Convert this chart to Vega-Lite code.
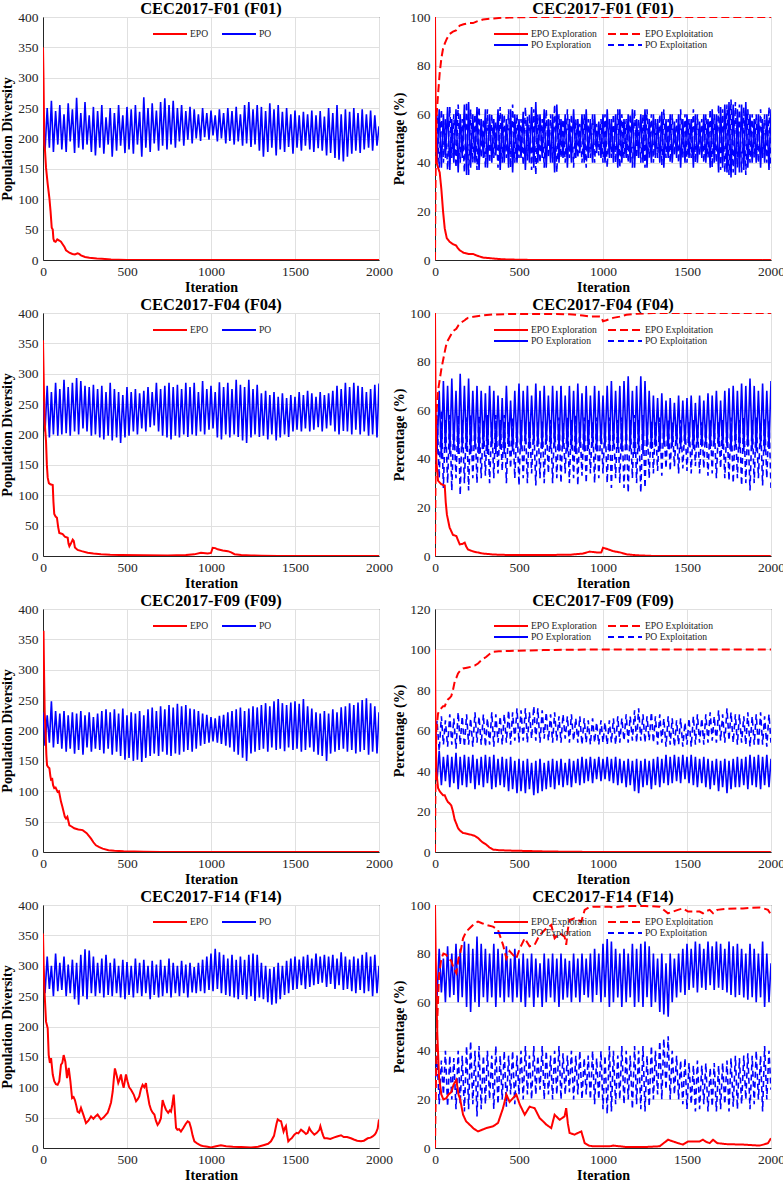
{
"$schema":"https://vega.github.io/schema/vega-lite/v6.json",
"background":"#ffffff",
"padding":0,
"columns":2,
"spacing":{"row":53,"column":56},
"bounds":"flush",
"resolve":{"scale":{"color":"independent","strokeDash":"independent"}},
"concat":[
{"title":"CEC2017-F01 (F01)","width":336,"height":243,
"encoding":{"x":{"field":"i","type":"quantitative","scale":{"domain":[0,2000],"nice":false},"axis":{"values":[0,500,1000,1500,2000],"format":"d","title":"Iteration"}},
"y":{"field":"v","type":"quantitative","scale":{"domain":[0,400],"nice":false},"axis":{"values":[0,50,100,150,200,250,300,350,400],"title":"Population Diversity"}}},
"layer":[
{"data":{"name":"p1"},"mark":{"type":"line","strokeWidth":1.6,"clip":true},"encoding":{"color":{"datum":"PO","scale":{"domain":["EPO","PO"],"range":["#ff0000","#0000ff"]},"legend":{"orient":"none","legendX":109,"legendY":11.5,"direction":"horizontal","columns":2,"title":null,"columnPadding":12}}}},
{"data":{"name":"e1"},"mark":{"type":"line","strokeWidth":2,"clip":true},"encoding":{"color":{"datum":"EPO","scale":{"domain":["EPO","PO"],"range":["#ff0000","#0000ff"]},"legend":{"orient":"none","legendX":109,"legendY":11.5,"direction":"horizontal","columns":2,"title":null,"columnPadding":12}}}}
]},
{"title":"CEC2017-F01 (F01)","width":336,"height":243,
"encoding":{"x":{"field":"i","type":"quantitative","scale":{"domain":[0,2000],"nice":false},"axis":{"values":[0,500,1000,1500,2000],"format":"d","title":"Iteration"}},
"y":{"field":"v","type":"quantitative","scale":{"domain":[0,100],"nice":false},"axis":{"values":[0,20,40,60,80,100],"title":"Percentage (%)"}}},
"layer":[
{"data":{"name":"q1"},"transform":[{"fold":["t"],"as":["k","v"]}],"mark":{"type":"line","strokeWidth":1.6,"clip":true},"encoding":{"color":{"datum":"PO Exploitation","scale":{"domain":["EPO Exploration","EPO Exploitation","PO Exploration","PO Exploitation"],"range":["#ff0000","#ff0000","#0000ff","#0000ff"]},"legend":{"orient":"none","legendX":58,"legendY":11.5,"direction":"horizontal","columns":2,"title":null,"columnPadding":10}},"strokeDash":{"datum":"PO Exploitation","scale":{"domain":["EPO Exploration","EPO Exploitation","PO Exploration","PO Exploitation"],"range":[[1,0],[8,4],[1,0],[6,4]]},"legend":{"orient":"none","legendX":58,"legendY":11.5,"direction":"horizontal","columns":2,"title":null,"columnPadding":10}}}},
{"data":{"name":"q1"},"transform":[{"fold":["r"],"as":["k","v"]}],"mark":{"type":"line","strokeWidth":1.6,"clip":true},"encoding":{"color":{"datum":"PO Exploration","scale":{"domain":["EPO Exploration","EPO Exploitation","PO Exploration","PO Exploitation"],"range":["#ff0000","#ff0000","#0000ff","#0000ff"]},"legend":{"orient":"none","legendX":58,"legendY":11.5,"direction":"horizontal","columns":2,"title":null,"columnPadding":10}},"strokeDash":{"datum":"PO Exploration","scale":{"domain":["EPO Exploration","EPO Exploitation","PO Exploration","PO Exploitation"],"range":[[1,0],[8,4],[1,0],[6,4]]},"legend":{"orient":"none","legendX":58,"legendY":11.5,"direction":"horizontal","columns":2,"title":null,"columnPadding":10}}}},
{"data":{"name":"g1"},"transform":[{"fold":["t"],"as":["k","v"]}],"mark":{"type":"line","strokeWidth":2,"clip":true},"encoding":{"color":{"datum":"EPO Exploitation","scale":{"domain":["EPO Exploration","EPO Exploitation","PO Exploration","PO Exploitation"],"range":["#ff0000","#ff0000","#0000ff","#0000ff"]},"legend":{"orient":"none","legendX":58,"legendY":11.5,"direction":"horizontal","columns":2,"title":null,"columnPadding":10}},"strokeDash":{"datum":"EPO Exploitation","scale":{"domain":["EPO Exploration","EPO Exploitation","PO Exploration","PO Exploitation"],"range":[[1,0],[8,4],[1,0],[6,4]]},"legend":{"orient":"none","legendX":58,"legendY":11.5,"direction":"horizontal","columns":2,"title":null,"columnPadding":10}}}},
{"data":{"name":"g1"},"transform":[{"fold":["r"],"as":["k","v"]}],"mark":{"type":"line","strokeWidth":2,"clip":true},"encoding":{"color":{"datum":"EPO Exploration","scale":{"domain":["EPO Exploration","EPO Exploitation","PO Exploration","PO Exploitation"],"range":["#ff0000","#ff0000","#0000ff","#0000ff"]},"legend":{"orient":"none","legendX":58,"legendY":11.5,"direction":"horizontal","columns":2,"title":null,"columnPadding":10}},"strokeDash":{"datum":"EPO Exploration","scale":{"domain":["EPO Exploration","EPO Exploitation","PO Exploration","PO Exploitation"],"range":[[1,0],[8,4],[1,0],[6,4]]},"legend":{"orient":"none","legendX":58,"legendY":11.5,"direction":"horizontal","columns":2,"title":null,"columnPadding":10}}}}
]},
{"title":"CEC2017-F04 (F04)","width":336,"height":243,
"encoding":{"x":{"field":"i","type":"quantitative","scale":{"domain":[0,2000],"nice":false},"axis":{"values":[0,500,1000,1500,2000],"format":"d","title":"Iteration"}},
"y":{"field":"v","type":"quantitative","scale":{"domain":[0,400],"nice":false},"axis":{"values":[0,50,100,150,200,250,300,350,400],"title":"Population Diversity"}}},
"layer":[
{"data":{"name":"p2"},"mark":{"type":"line","strokeWidth":1.6,"clip":true},"encoding":{"color":{"datum":"PO","scale":{"domain":["EPO","PO"],"range":["#ff0000","#0000ff"]},"legend":{"orient":"none","legendX":109,"legendY":11.5,"direction":"horizontal","columns":2,"title":null,"columnPadding":12}}}},
{"data":{"name":"e2"},"mark":{"type":"line","strokeWidth":2,"clip":true},"encoding":{"color":{"datum":"EPO","scale":{"domain":["EPO","PO"],"range":["#ff0000","#0000ff"]},"legend":{"orient":"none","legendX":109,"legendY":11.5,"direction":"horizontal","columns":2,"title":null,"columnPadding":12}}}}
]},
{"title":"CEC2017-F04 (F04)","width":336,"height":243,
"encoding":{"x":{"field":"i","type":"quantitative","scale":{"domain":[0,2000],"nice":false},"axis":{"values":[0,500,1000,1500,2000],"format":"d","title":"Iteration"}},
"y":{"field":"v","type":"quantitative","scale":{"domain":[0,100],"nice":false},"axis":{"values":[0,20,40,60,80,100],"title":"Percentage (%)"}}},
"layer":[
{"data":{"name":"q2"},"transform":[{"fold":["t"],"as":["k","v"]}],"mark":{"type":"line","strokeWidth":1.6,"clip":true},"encoding":{"color":{"datum":"PO Exploitation","scale":{"domain":["EPO Exploration","EPO Exploitation","PO Exploration","PO Exploitation"],"range":["#ff0000","#ff0000","#0000ff","#0000ff"]},"legend":{"orient":"none","legendX":58,"legendY":11.5,"direction":"horizontal","columns":2,"title":null,"columnPadding":10}},"strokeDash":{"datum":"PO Exploitation","scale":{"domain":["EPO Exploration","EPO Exploitation","PO Exploration","PO Exploitation"],"range":[[1,0],[8,4],[1,0],[6,4]]},"legend":{"orient":"none","legendX":58,"legendY":11.5,"direction":"horizontal","columns":2,"title":null,"columnPadding":10}}}},
{"data":{"name":"q2"},"transform":[{"fold":["r"],"as":["k","v"]}],"mark":{"type":"line","strokeWidth":1.6,"clip":true},"encoding":{"color":{"datum":"PO Exploration","scale":{"domain":["EPO Exploration","EPO Exploitation","PO Exploration","PO Exploitation"],"range":["#ff0000","#ff0000","#0000ff","#0000ff"]},"legend":{"orient":"none","legendX":58,"legendY":11.5,"direction":"horizontal","columns":2,"title":null,"columnPadding":10}},"strokeDash":{"datum":"PO Exploration","scale":{"domain":["EPO Exploration","EPO Exploitation","PO Exploration","PO Exploitation"],"range":[[1,0],[8,4],[1,0],[6,4]]},"legend":{"orient":"none","legendX":58,"legendY":11.5,"direction":"horizontal","columns":2,"title":null,"columnPadding":10}}}},
{"data":{"name":"g2"},"transform":[{"fold":["t"],"as":["k","v"]}],"mark":{"type":"line","strokeWidth":2,"clip":true},"encoding":{"color":{"datum":"EPO Exploitation","scale":{"domain":["EPO Exploration","EPO Exploitation","PO Exploration","PO Exploitation"],"range":["#ff0000","#ff0000","#0000ff","#0000ff"]},"legend":{"orient":"none","legendX":58,"legendY":11.5,"direction":"horizontal","columns":2,"title":null,"columnPadding":10}},"strokeDash":{"datum":"EPO Exploitation","scale":{"domain":["EPO Exploration","EPO Exploitation","PO Exploration","PO Exploitation"],"range":[[1,0],[8,4],[1,0],[6,4]]},"legend":{"orient":"none","legendX":58,"legendY":11.5,"direction":"horizontal","columns":2,"title":null,"columnPadding":10}}}},
{"data":{"name":"g2"},"transform":[{"fold":["r"],"as":["k","v"]}],"mark":{"type":"line","strokeWidth":2,"clip":true},"encoding":{"color":{"datum":"EPO Exploration","scale":{"domain":["EPO Exploration","EPO Exploitation","PO Exploration","PO Exploitation"],"range":["#ff0000","#ff0000","#0000ff","#0000ff"]},"legend":{"orient":"none","legendX":58,"legendY":11.5,"direction":"horizontal","columns":2,"title":null,"columnPadding":10}},"strokeDash":{"datum":"EPO Exploration","scale":{"domain":["EPO Exploration","EPO Exploitation","PO Exploration","PO Exploitation"],"range":[[1,0],[8,4],[1,0],[6,4]]},"legend":{"orient":"none","legendX":58,"legendY":11.5,"direction":"horizontal","columns":2,"title":null,"columnPadding":10}}}}
]},
{"title":"CEC2017-F09 (F09)","width":336,"height":243,
"encoding":{"x":{"field":"i","type":"quantitative","scale":{"domain":[0,2000],"nice":false},"axis":{"values":[0,500,1000,1500,2000],"format":"d","title":"Iteration"}},
"y":{"field":"v","type":"quantitative","scale":{"domain":[0,400],"nice":false},"axis":{"values":[0,50,100,150,200,250,300,350,400],"title":"Population Diversity"}}},
"layer":[
{"data":{"name":"p3"},"mark":{"type":"line","strokeWidth":1.6,"clip":true},"encoding":{"color":{"datum":"PO","scale":{"domain":["EPO","PO"],"range":["#ff0000","#0000ff"]},"legend":{"orient":"none","legendX":109,"legendY":11.5,"direction":"horizontal","columns":2,"title":null,"columnPadding":12}}}},
{"data":{"name":"e3"},"mark":{"type":"line","strokeWidth":2,"clip":true},"encoding":{"color":{"datum":"EPO","scale":{"domain":["EPO","PO"],"range":["#ff0000","#0000ff"]},"legend":{"orient":"none","legendX":109,"legendY":11.5,"direction":"horizontal","columns":2,"title":null,"columnPadding":12}}}}
]},
{"title":"CEC2017-F09 (F09)","width":336,"height":243,
"encoding":{"x":{"field":"i","type":"quantitative","scale":{"domain":[0,2000],"nice":false},"axis":{"values":[0,500,1000,1500,2000],"format":"d","title":"Iteration"}},
"y":{"field":"v","type":"quantitative","scale":{"domain":[0,120],"nice":false},"axis":{"values":[0,20,40,60,80,100,120],"title":"Percentage (%)"}}},
"layer":[
{"data":{"name":"q3"},"transform":[{"fold":["t"],"as":["k","v"]}],"mark":{"type":"line","strokeWidth":1.6,"clip":true},"encoding":{"color":{"datum":"PO Exploitation","scale":{"domain":["EPO Exploration","EPO Exploitation","PO Exploration","PO Exploitation"],"range":["#ff0000","#ff0000","#0000ff","#0000ff"]},"legend":{"orient":"none","legendX":58,"legendY":11.5,"direction":"horizontal","columns":2,"title":null,"columnPadding":10}},"strokeDash":{"datum":"PO Exploitation","scale":{"domain":["EPO Exploration","EPO Exploitation","PO Exploration","PO Exploitation"],"range":[[1,0],[8,4],[1,0],[6,4]]},"legend":{"orient":"none","legendX":58,"legendY":11.5,"direction":"horizontal","columns":2,"title":null,"columnPadding":10}}}},
{"data":{"name":"q3"},"transform":[{"fold":["r"],"as":["k","v"]}],"mark":{"type":"line","strokeWidth":1.6,"clip":true},"encoding":{"color":{"datum":"PO Exploration","scale":{"domain":["EPO Exploration","EPO Exploitation","PO Exploration","PO Exploitation"],"range":["#ff0000","#ff0000","#0000ff","#0000ff"]},"legend":{"orient":"none","legendX":58,"legendY":11.5,"direction":"horizontal","columns":2,"title":null,"columnPadding":10}},"strokeDash":{"datum":"PO Exploration","scale":{"domain":["EPO Exploration","EPO Exploitation","PO Exploration","PO Exploitation"],"range":[[1,0],[8,4],[1,0],[6,4]]},"legend":{"orient":"none","legendX":58,"legendY":11.5,"direction":"horizontal","columns":2,"title":null,"columnPadding":10}}}},
{"data":{"name":"g3"},"transform":[{"fold":["t"],"as":["k","v"]}],"mark":{"type":"line","strokeWidth":2,"clip":true},"encoding":{"color":{"datum":"EPO Exploitation","scale":{"domain":["EPO Exploration","EPO Exploitation","PO Exploration","PO Exploitation"],"range":["#ff0000","#ff0000","#0000ff","#0000ff"]},"legend":{"orient":"none","legendX":58,"legendY":11.5,"direction":"horizontal","columns":2,"title":null,"columnPadding":10}},"strokeDash":{"datum":"EPO Exploitation","scale":{"domain":["EPO Exploration","EPO Exploitation","PO Exploration","PO Exploitation"],"range":[[1,0],[8,4],[1,0],[6,4]]},"legend":{"orient":"none","legendX":58,"legendY":11.5,"direction":"horizontal","columns":2,"title":null,"columnPadding":10}}}},
{"data":{"name":"g3"},"transform":[{"fold":["r"],"as":["k","v"]}],"mark":{"type":"line","strokeWidth":2,"clip":true},"encoding":{"color":{"datum":"EPO Exploration","scale":{"domain":["EPO Exploration","EPO Exploitation","PO Exploration","PO Exploitation"],"range":["#ff0000","#ff0000","#0000ff","#0000ff"]},"legend":{"orient":"none","legendX":58,"legendY":11.5,"direction":"horizontal","columns":2,"title":null,"columnPadding":10}},"strokeDash":{"datum":"EPO Exploration","scale":{"domain":["EPO Exploration","EPO Exploitation","PO Exploration","PO Exploitation"],"range":[[1,0],[8,4],[1,0],[6,4]]},"legend":{"orient":"none","legendX":58,"legendY":11.5,"direction":"horizontal","columns":2,"title":null,"columnPadding":10}}}}
]},
{"title":"CEC2017-F14 (F14)","width":336,"height":243,
"encoding":{"x":{"field":"i","type":"quantitative","scale":{"domain":[0,2000],"nice":false},"axis":{"values":[0,500,1000,1500,2000],"format":"d","title":"Iteration"}},
"y":{"field":"v","type":"quantitative","scale":{"domain":[0,400],"nice":false},"axis":{"values":[0,50,100,150,200,250,300,350,400],"title":"Population Diversity"}}},
"layer":[
{"data":{"name":"p4"},"mark":{"type":"line","strokeWidth":1.6,"clip":true},"encoding":{"color":{"datum":"PO","scale":{"domain":["EPO","PO"],"range":["#ff0000","#0000ff"]},"legend":{"orient":"none","legendX":109,"legendY":11.5,"direction":"horizontal","columns":2,"title":null,"columnPadding":12}}}},
{"data":{"name":"e4"},"mark":{"type":"line","strokeWidth":2,"clip":true},"encoding":{"color":{"datum":"EPO","scale":{"domain":["EPO","PO"],"range":["#ff0000","#0000ff"]},"legend":{"orient":"none","legendX":109,"legendY":11.5,"direction":"horizontal","columns":2,"title":null,"columnPadding":12}}}}
]},
{"title":"CEC2017-F14 (F14)","width":336,"height":243,
"encoding":{"x":{"field":"i","type":"quantitative","scale":{"domain":[0,2000],"nice":false},"axis":{"values":[0,500,1000,1500,2000],"format":"d","title":"Iteration"}},
"y":{"field":"v","type":"quantitative","scale":{"domain":[0,100],"nice":false},"axis":{"values":[0,20,40,60,80,100],"title":"Percentage (%)"}}},
"layer":[
{"data":{"name":"q4"},"transform":[{"fold":["t"],"as":["k","v"]}],"mark":{"type":"line","strokeWidth":1.6,"clip":true},"encoding":{"color":{"datum":"PO Exploitation","scale":{"domain":["EPO Exploration","EPO Exploitation","PO Exploration","PO Exploitation"],"range":["#ff0000","#ff0000","#0000ff","#0000ff"]},"legend":{"orient":"none","legendX":58,"legendY":11.5,"direction":"horizontal","columns":2,"title":null,"columnPadding":10}},"strokeDash":{"datum":"PO Exploitation","scale":{"domain":["EPO Exploration","EPO Exploitation","PO Exploration","PO Exploitation"],"range":[[1,0],[8,4],[1,0],[6,4]]},"legend":{"orient":"none","legendX":58,"legendY":11.5,"direction":"horizontal","columns":2,"title":null,"columnPadding":10}}}},
{"data":{"name":"q4"},"transform":[{"fold":["r"],"as":["k","v"]}],"mark":{"type":"line","strokeWidth":1.6,"clip":true},"encoding":{"color":{"datum":"PO Exploration","scale":{"domain":["EPO Exploration","EPO Exploitation","PO Exploration","PO Exploitation"],"range":["#ff0000","#ff0000","#0000ff","#0000ff"]},"legend":{"orient":"none","legendX":58,"legendY":11.5,"direction":"horizontal","columns":2,"title":null,"columnPadding":10}},"strokeDash":{"datum":"PO Exploration","scale":{"domain":["EPO Exploration","EPO Exploitation","PO Exploration","PO Exploitation"],"range":[[1,0],[8,4],[1,0],[6,4]]},"legend":{"orient":"none","legendX":58,"legendY":11.5,"direction":"horizontal","columns":2,"title":null,"columnPadding":10}}}},
{"data":{"name":"g4"},"transform":[{"fold":["t"],"as":["k","v"]}],"mark":{"type":"line","strokeWidth":2,"clip":true},"encoding":{"color":{"datum":"EPO Exploitation","scale":{"domain":["EPO Exploration","EPO Exploitation","PO Exploration","PO Exploitation"],"range":["#ff0000","#ff0000","#0000ff","#0000ff"]},"legend":{"orient":"none","legendX":58,"legendY":11.5,"direction":"horizontal","columns":2,"title":null,"columnPadding":10}},"strokeDash":{"datum":"EPO Exploitation","scale":{"domain":["EPO Exploration","EPO Exploitation","PO Exploration","PO Exploitation"],"range":[[1,0],[8,4],[1,0],[6,4]]},"legend":{"orient":"none","legendX":58,"legendY":11.5,"direction":"horizontal","columns":2,"title":null,"columnPadding":10}}}},
{"data":{"name":"g4"},"transform":[{"fold":["r"],"as":["k","v"]}],"mark":{"type":"line","strokeWidth":2,"clip":true},"encoding":{"color":{"datum":"EPO Exploration","scale":{"domain":["EPO Exploration","EPO Exploitation","PO Exploration","PO Exploitation"],"range":["#ff0000","#ff0000","#0000ff","#0000ff"]},"legend":{"orient":"none","legendX":58,"legendY":11.5,"direction":"horizontal","columns":2,"title":null,"columnPadding":10}},"strokeDash":{"datum":"EPO Exploration","scale":{"domain":["EPO Exploration","EPO Exploitation","PO Exploration","PO Exploitation"],"range":[[1,0],[8,4],[1,0],[6,4]]},"legend":{"orient":"none","legendX":58,"legendY":11.5,"direction":"horizontal","columns":2,"title":null,"columnPadding":10}}}}
]}
],
"datasets":{
"p1":[{"i":0,"v":235},{"i":12,"v":180},{"i":25,"v":250},{"i":38,"v":185},{"i":50,"v":262},{"i":62,"v":178},{"i":75,"v":245},{"i":88,"v":190},{"i":100,"v":255},{"i":112,"v":182},{"i":125,"v":240},{"i":138,"v":178},{"i":150,"v":258},{"i":162,"v":195},{"i":175,"v":248},{"i":188,"v":176},{"i":200,"v":267},{"i":212,"v":185},{"i":225,"v":242},{"i":238,"v":182},{"i":250,"v":260},{"i":262,"v":190},{"i":275,"v":238},{"i":288,"v":178},{"i":300,"v":252},{"i":312,"v":172},{"i":325,"v":245},{"i":338,"v":185},{"i":350,"v":255},{"i":362,"v":175},{"i":375,"v":235},{"i":388,"v":190},{"i":400,"v":250},{"i":412,"v":170},{"i":425,"v":242},{"i":438,"v":180},{"i":450,"v":255},{"i":462,"v":188},{"i":475,"v":238},{"i":488,"v":176},{"i":500,"v":252},{"i":512,"v":182},{"i":525,"v":248},{"i":538,"v":175},{"i":550,"v":255},{"i":562,"v":190},{"i":575,"v":244},{"i":588,"v":170},{"i":600,"v":268},{"i":612,"v":185},{"i":625,"v":250},{"i":638,"v":178},{"i":650,"v":258},{"i":662,"v":192},{"i":675,"v":246},{"i":688,"v":180},{"i":700,"v":260},{"i":712,"v":188},{"i":725,"v":266},{"i":738,"v":182},{"i":750,"v":255},{"i":762,"v":190},{"i":775,"v":262},{"i":788,"v":185},{"i":800,"v":250},{"i":812,"v":195},{"i":825,"v":255},{"i":838,"v":188},{"i":850,"v":245},{"i":862,"v":198},{"i":875,"v":252},{"i":888,"v":192},{"i":900,"v":248},{"i":912,"v":200},{"i":925,"v":240},{"i":938,"v":196},{"i":950,"v":250},{"i":962,"v":202},{"i":975,"v":242},{"i":988,"v":198},{"i":1000,"v":246},{"i":1012,"v":205},{"i":1025,"v":238},{"i":1038,"v":195},{"i":1050,"v":248},{"i":1062,"v":200},{"i":1075,"v":242},{"i":1088,"v":192},{"i":1100,"v":250},{"i":1112,"v":196},{"i":1125,"v":245},{"i":1138,"v":190},{"i":1150,"v":252},{"i":1162,"v":195},{"i":1175,"v":240},{"i":1188,"v":188},{"i":1200,"v":255},{"i":1212,"v":192},{"i":1225,"v":260},{"i":1238,"v":186},{"i":1250,"v":248},{"i":1262,"v":190},{"i":1275,"v":255},{"i":1288,"v":180},{"i":1300,"v":252},{"i":1312,"v":170},{"i":1325,"v":245},{"i":1338,"v":178},{"i":1350,"v":258},{"i":1362,"v":185},{"i":1375,"v":248},{"i":1388,"v":172},{"i":1400,"v":255},{"i":1412,"v":182},{"i":1425,"v":244},{"i":1438,"v":178},{"i":1450,"v":250},{"i":1462,"v":186},{"i":1475,"v":240},{"i":1488,"v":175},{"i":1500,"v":246},{"i":1512,"v":185},{"i":1525,"v":238},{"i":1538,"v":180},{"i":1550,"v":244},{"i":1562,"v":188},{"i":1575,"v":240},{"i":1588,"v":182},{"i":1600,"v":246},{"i":1612,"v":178},{"i":1625,"v":238},{"i":1638,"v":184},{"i":1650,"v":245},{"i":1662,"v":180},{"i":1675,"v":236},{"i":1688,"v":172},{"i":1700,"v":250},{"i":1712,"v":176},{"i":1725,"v":242},{"i":1738,"v":168},{"i":1750,"v":255},{"i":1762,"v":165},{"i":1775,"v":240},{"i":1788,"v":162},{"i":1800,"v":248},{"i":1812,"v":170},{"i":1825,"v":244},{"i":1838,"v":175},{"i":1850,"v":250},{"i":1862,"v":180},{"i":1875,"v":242},{"i":1888,"v":176},{"i":1900,"v":248},{"i":1912,"v":182},{"i":1925,"v":240},{"i":1938,"v":185},{"i":1950,"v":246},{"i":1962,"v":180},{"i":1975,"v":238},{"i":1988,"v":188},{"i":2000,"v":220}],
"e1":[{"i":0,"v":350},{"i":3,"v":300},{"i":6,"v":230},{"i":8,"v":190},{"i":12,"v":180},{"i":18,"v":152},{"i":28,"v":125},{"i":38,"v":102},{"i":45,"v":80},{"i":52,"v":53},{"i":58,"v":50},{"i":62,"v":35},{"i":67,"v":31},{"i":75,"v":30},{"i":85,"v":34},{"i":97,"v":32},{"i":107,"v":30},{"i":117,"v":26},{"i":127,"v":22},{"i":137,"v":16},{"i":147,"v":14},{"i":157,"v":12},{"i":175,"v":10},{"i":190,"v":9},{"i":206,"v":11},{"i":215,"v":10},{"i":226,"v":7.7},{"i":250,"v":5},{"i":276,"v":3.8},{"i":320,"v":2.5},{"i":350,"v":2},{"i":405,"v":1},{"i":450,"v":0.5},{"i":500,"v":0.2},{"i":600,"v":0},{"i":2000,"v":0}],
"q1":[{"i":0,"r":55,"t":45},{"i":12,"r":40,"t":60},{"i":25,"r":62,"t":38},{"i":38,"r":38,"t":62},{"i":50,"r":60,"t":40},{"i":62,"r":42,"t":58},{"i":75,"r":63,"t":37},{"i":88,"r":37,"t":63},{"i":100,"r":58,"t":42},{"i":112,"r":40,"t":60},{"i":125,"r":62,"t":38},{"i":138,"r":36,"t":64},{"i":150,"r":60,"t":40},{"i":162,"r":42,"t":58},{"i":175,"r":64,"t":36},{"i":188,"r":35,"t":65},{"i":200,"r":65,"t":35},{"i":212,"r":38,"t":62},{"i":225,"r":60,"t":40},{"i":238,"r":40,"t":60},{"i":250,"r":63,"t":37},{"i":262,"r":37,"t":63},{"i":275,"r":58,"t":42},{"i":288,"r":42,"t":58},{"i":300,"r":62,"t":38},{"i":312,"r":38,"t":62},{"i":325,"r":60,"t":40},{"i":338,"r":40,"t":60},{"i":350,"r":58,"t":42},{"i":362,"r":43,"t":57},{"i":375,"r":62,"t":38},{"i":388,"r":37,"t":63},{"i":400,"r":60,"t":40},{"i":412,"r":40,"t":60},{"i":425,"r":58,"t":42},{"i":438,"r":38,"t":62},{"i":450,"r":62,"t":38},{"i":462,"r":36,"t":64},{"i":475,"r":60,"t":40},{"i":488,"r":40,"t":60},{"i":500,"r":58,"t":42},{"i":512,"r":42,"t":58},{"i":525,"r":61,"t":39},{"i":538,"r":37,"t":63},{"i":550,"r":59,"t":41},{"i":562,"r":40,"t":60},{"i":575,"r":63,"t":37},{"i":588,"r":38,"t":62},{"i":600,"r":65,"t":35},{"i":612,"r":40,"t":60},{"i":625,"r":60,"t":40},{"i":638,"r":42,"t":58},{"i":650,"r":62,"t":38},{"i":662,"r":38,"t":62},{"i":675,"r":58,"t":42},{"i":688,"r":40,"t":60},{"i":700,"r":60,"t":40},{"i":712,"r":36,"t":64},{"i":725,"r":64,"t":36},{"i":738,"r":40,"t":60},{"i":750,"r":58,"t":42},{"i":762,"r":42,"t":58},{"i":775,"r":60,"t":40},{"i":788,"r":38,"t":62},{"i":800,"r":58,"t":42},{"i":812,"r":40,"t":60},{"i":825,"r":62,"t":38},{"i":838,"r":42,"t":58},{"i":850,"r":58,"t":42},{"i":862,"r":44,"t":56},{"i":875,"r":60,"t":40},{"i":888,"r":40,"t":60},{"i":900,"r":62,"t":38},{"i":912,"r":42,"t":58},{"i":925,"r":58,"t":42},{"i":938,"r":40,"t":60},{"i":950,"r":60,"t":40},{"i":962,"r":44,"t":56},{"i":975,"r":57,"t":43},{"i":988,"r":42,"t":58},{"i":1000,"r":60,"t":40},{"i":1012,"r":40,"t":60},{"i":1025,"r":62,"t":38},{"i":1038,"r":42,"t":58},{"i":1050,"r":58,"t":42},{"i":1062,"r":40,"t":60},{"i":1075,"r":60,"t":40},{"i":1088,"r":38,"t":62},{"i":1100,"r":62,"t":38},{"i":1112,"r":40,"t":60},{"i":1125,"r":58,"t":42},{"i":1138,"r":42,"t":58},{"i":1150,"r":60,"t":40},{"i":1162,"r":40,"t":60},{"i":1175,"r":62,"t":38},{"i":1188,"r":38,"t":62},{"i":1200,"r":58,"t":42},{"i":1212,"r":42,"t":58},{"i":1225,"r":60,"t":40},{"i":1238,"r":40,"t":60},{"i":1250,"r":62,"t":38},{"i":1262,"r":38,"t":62},{"i":1275,"r":58,"t":42},{"i":1288,"r":40,"t":60},{"i":1300,"r":60,"t":40},{"i":1312,"r":42,"t":58},{"i":1325,"r":58,"t":42},{"i":1338,"r":40,"t":60},{"i":1350,"r":61,"t":39},{"i":1362,"r":38,"t":62},{"i":1375,"r":58,"t":42},{"i":1388,"r":42,"t":58},{"i":1400,"r":60,"t":40},{"i":1412,"r":40,"t":60},{"i":1425,"r":57,"t":43},{"i":1438,"r":42,"t":58},{"i":1450,"r":60,"t":40},{"i":1462,"r":38,"t":62},{"i":1475,"r":58,"t":42},{"i":1488,"r":40,"t":60},{"i":1500,"r":60,"t":40},{"i":1512,"r":42,"t":58},{"i":1525,"r":58,"t":42},{"i":1538,"r":38,"t":62},{"i":1550,"r":60,"t":40},{"i":1562,"r":40,"t":60},{"i":1575,"r":57,"t":43},{"i":1588,"r":42,"t":58},{"i":1600,"r":60,"t":40},{"i":1612,"r":40,"t":60},{"i":1625,"r":58,"t":42},{"i":1638,"r":38,"t":62},{"i":1650,"r":62,"t":38},{"i":1662,"r":40,"t":60},{"i":1675,"r":60,"t":40},{"i":1688,"r":36,"t":64},{"i":1700,"r":63,"t":37},{"i":1712,"r":38,"t":62},{"i":1725,"r":64,"t":36},{"i":1738,"r":36,"t":64},{"i":1750,"r":65,"t":35},{"i":1762,"r":34,"t":66},{"i":1775,"r":64,"t":36},{"i":1788,"r":35,"t":65},{"i":1800,"r":62,"t":38},{"i":1812,"r":36,"t":64},{"i":1825,"r":64,"t":36},{"i":1838,"r":37,"t":63},{"i":1850,"r":65,"t":35},{"i":1862,"r":38,"t":62},{"i":1875,"r":60,"t":40},{"i":1888,"r":40,"t":60},{"i":1900,"r":58,"t":42},{"i":1912,"r":40,"t":60},{"i":1925,"r":60,"t":40},{"i":1938,"r":38,"t":62},{"i":1950,"r":58,"t":42},{"i":1962,"r":40,"t":60},{"i":1975,"r":60,"t":40},{"i":1988,"r":37,"t":63},{"i":2000,"r":62,"t":38}],
"g1":[{"i":0,"r":100,"t":0},{"i":3,"r":70,"t":30},{"i":6,"r":50,"t":50},{"i":10,"r":40,"t":60},{"i":18,"r":38,"t":68},{"i":28,"r":36,"t":77},{"i":38,"r":29,"t":83},{"i":48,"r":20,"t":87},{"i":58,"r":13,"t":89},{"i":70,"r":9,"t":91},{"i":87,"r":7.5,"t":93},{"i":107,"r":6.5,"t":94},{"i":125,"r":6,"t":94.5},{"i":135,"r":5,"t":95.5},{"i":147,"r":4,"t":96.5},{"i":170,"r":3,"t":97},{"i":200,"r":2.5,"t":97.5},{"i":226,"r":2.5,"t":97.5},{"i":250,"r":1.8,"t":98.2},{"i":286,"r":1,"t":99},{"i":350,"r":0.6,"t":99.4},{"i":400,"r":0.3,"t":99.7},{"i":500,"r":0.1,"t":99.9},{"i":600,"r":0,"t":100},{"i":2000,"r":0,"t":100}],
"p2":[{"i":0,"v":255},{"i":12,"v":205},{"i":25,"v":280},{"i":38,"v":195},{"i":50,"v":270},{"i":62,"v":200},{"i":75,"v":285},{"i":88,"v":198},{"i":100,"v":275},{"i":112,"v":200},{"i":125,"v":290},{"i":138,"v":202},{"i":150,"v":278},{"i":162,"v":198},{"i":175,"v":285},{"i":188,"v":205},{"i":200,"v":293},{"i":212,"v":200},{"i":225,"v":288},{"i":238,"v":210},{"i":250,"v":280},{"i":262,"v":205},{"i":275,"v":278},{"i":288,"v":198},{"i":300,"v":282},{"i":312,"v":200},{"i":325,"v":275},{"i":338,"v":195},{"i":350,"v":280},{"i":362,"v":192},{"i":375,"v":270},{"i":388,"v":198},{"i":400,"v":285},{"i":412,"v":190},{"i":425,"v":275},{"i":438,"v":195},{"i":450,"v":270},{"i":462,"v":186},{"i":475,"v":265},{"i":488,"v":195},{"i":500,"v":278},{"i":512,"v":198},{"i":525,"v":270},{"i":538,"v":205},{"i":550,"v":275},{"i":562,"v":200},{"i":575,"v":268},{"i":588,"v":210},{"i":600,"v":272},{"i":612,"v":205},{"i":625,"v":278},{"i":638,"v":212},{"i":650,"v":270},{"i":662,"v":215},{"i":675,"v":285},{"i":688,"v":205},{"i":700,"v":275},{"i":712,"v":198},{"i":725,"v":280},{"i":738,"v":195},{"i":750,"v":285},{"i":762,"v":192},{"i":775,"v":278},{"i":788,"v":198},{"i":800,"v":282},{"i":812,"v":195},{"i":825,"v":275},{"i":838,"v":200},{"i":850,"v":285},{"i":862,"v":196},{"i":875,"v":278},{"i":888,"v":200},{"i":900,"v":285},{"i":912,"v":198},{"i":925,"v":270},{"i":938,"v":205},{"i":950,"v":288},{"i":962,"v":200},{"i":975,"v":275},{"i":988,"v":208},{"i":1000,"v":280},{"i":1012,"v":210},{"i":1025,"v":270},{"i":1038,"v":195},{"i":1050,"v":286},{"i":1062,"v":192},{"i":1075,"v":278},{"i":1088,"v":200},{"i":1100,"v":285},{"i":1112,"v":195},{"i":1125,"v":275},{"i":1138,"v":200},{"i":1150,"v":290},{"i":1162,"v":196},{"i":1175,"v":282},{"i":1188,"v":190},{"i":1200,"v":278},{"i":1212,"v":186},{"i":1225,"v":290},{"i":1238,"v":195},{"i":1250,"v":275},{"i":1262,"v":200},{"i":1275,"v":282},{"i":1288,"v":196},{"i":1300,"v":268},{"i":1312,"v":198},{"i":1325,"v":272},{"i":1338,"v":192},{"i":1350,"v":265},{"i":1362,"v":200},{"i":1375,"v":270},{"i":1388,"v":190},{"i":1400,"v":262},{"i":1412,"v":195},{"i":1425,"v":268},{"i":1438,"v":200},{"i":1450,"v":260},{"i":1462,"v":196},{"i":1475,"v":265},{"i":1488,"v":205},{"i":1500,"v":262},{"i":1512,"v":208},{"i":1525,"v":270},{"i":1538,"v":205},{"i":1550,"v":265},{"i":1562,"v":210},{"i":1575,"v":272},{"i":1588,"v":205},{"i":1600,"v":268},{"i":1612,"v":208},{"i":1625,"v":262},{"i":1638,"v":212},{"i":1650,"v":270},{"i":1662,"v":205},{"i":1675,"v":265},{"i":1688,"v":210},{"i":1700,"v":268},{"i":1712,"v":215},{"i":1725,"v":272},{"i":1738,"v":205},{"i":1750,"v":280},{"i":1762,"v":200},{"i":1775,"v":275},{"i":1788,"v":206},{"i":1800,"v":285},{"i":1812,"v":205},{"i":1825,"v":278},{"i":1838,"v":200},{"i":1850,"v":285},{"i":1862,"v":208},{"i":1875,"v":280},{"i":1888,"v":200},{"i":1900,"v":278},{"i":1912,"v":205},{"i":1925,"v":270},{"i":1938,"v":198},{"i":1950,"v":275},{"i":1962,"v":200},{"i":1975,"v":282},{"i":1988,"v":195},{"i":2000,"v":284}],
"e2":[{"i":0,"v":355},{"i":5,"v":280},{"i":10,"v":220},{"i":18,"v":189},{"i":23,"v":150},{"i":28,"v":129},{"i":35,"v":120},{"i":44,"v":118},{"i":58,"v":117},{"i":62,"v":90},{"i":67,"v":69},{"i":75,"v":65},{"i":83,"v":63},{"i":90,"v":48},{"i":97,"v":38},{"i":107,"v":37},{"i":117,"v":36},{"i":130,"v":32},{"i":147,"v":30},{"i":152,"v":20},{"i":157,"v":16},{"i":165,"v":20},{"i":177,"v":27},{"i":183,"v":25},{"i":190,"v":14},{"i":206,"v":10},{"i":230,"v":8},{"i":266,"v":5.5},{"i":300,"v":4},{"i":345,"v":2.7},{"i":400,"v":2},{"i":464,"v":1.6},{"i":600,"v":1.2},{"i":742,"v":1},{"i":850,"v":1.5},{"i":900,"v":2.7},{"i":940,"v":5.5},{"i":980,"v":4},{"i":1000,"v":5},{"i":1010,"v":13.5},{"i":1025,"v":13},{"i":1040,"v":11},{"i":1070,"v":9},{"i":1100,"v":8},{"i":1120,"v":6},{"i":1140,"v":3},{"i":1180,"v":1.8},{"i":1238,"v":1},{"i":1300,"v":0.5},{"i":1400,"v":0.2},{"i":1500,"v":0},{"i":2000,"v":0}],
"q2":[{"i":0,"r":65,"t":35},{"i":12,"r":42,"t":58},{"i":25,"r":68,"t":32},{"i":38,"r":40,"t":60},{"i":50,"r":72,"t":28},{"i":62,"r":44,"t":56},{"i":75,"r":70,"t":30},{"i":88,"r":42,"t":58},{"i":100,"r":73,"t":27},{"i":112,"r":45,"t":55},{"i":125,"r":68,"t":32},{"i":138,"r":42,"t":58},{"i":150,"r":75,"t":25},{"i":162,"r":44,"t":56},{"i":175,"r":70,"t":30},{"i":188,"r":43,"t":57},{"i":200,"r":73,"t":27},{"i":212,"r":42,"t":58},{"i":225,"r":68,"t":32},{"i":238,"r":45,"t":55},{"i":250,"r":70,"t":30},{"i":262,"r":42,"t":58},{"i":275,"r":68,"t":32},{"i":288,"r":44,"t":56},{"i":300,"r":67,"t":33},{"i":312,"r":42,"t":58},{"i":325,"r":70,"t":30},{"i":338,"r":45,"t":55},{"i":350,"r":68,"t":32},{"i":362,"r":42,"t":58},{"i":375,"r":66,"t":34},{"i":388,"r":44,"t":56},{"i":400,"r":65,"t":35},{"i":412,"r":42,"t":58},{"i":425,"r":70,"t":30},{"i":438,"r":45,"t":55},{"i":450,"r":64,"t":36},{"i":462,"r":43,"t":57},{"i":475,"r":68,"t":32},{"i":488,"r":45,"t":55},{"i":500,"r":71,"t":29},{"i":512,"r":44,"t":56},{"i":525,"r":68,"t":32},{"i":538,"r":46,"t":54},{"i":550,"r":70,"t":30},{"i":562,"r":44,"t":56},{"i":575,"r":66,"t":34},{"i":588,"r":46,"t":54},{"i":600,"r":71,"t":29},{"i":612,"r":45,"t":55},{"i":625,"r":68,"t":32},{"i":638,"r":44,"t":56},{"i":650,"r":70,"t":30},{"i":662,"r":46,"t":54},{"i":675,"r":66,"t":34},{"i":688,"r":44,"t":56},{"i":700,"r":70,"t":30},{"i":712,"r":45,"t":55},{"i":725,"r":68,"t":32},{"i":738,"r":43,"t":57},{"i":750,"r":70,"t":30},{"i":762,"r":45,"t":55},{"i":775,"r":66,"t":34},{"i":788,"r":43,"t":57},{"i":800,"r":70,"t":30},{"i":812,"r":44,"t":56},{"i":825,"r":68,"t":32},{"i":838,"r":42,"t":58},{"i":850,"r":71,"t":29},{"i":862,"r":45,"t":55},{"i":875,"r":67,"t":33},{"i":888,"r":43,"t":57},{"i":900,"r":70,"t":30},{"i":912,"r":44,"t":56},{"i":925,"r":66,"t":34},{"i":938,"r":45,"t":55},{"i":950,"r":70,"t":30},{"i":962,"r":43,"t":57},{"i":975,"r":68,"t":32},{"i":988,"r":46,"t":54},{"i":1000,"r":66,"t":34},{"i":1012,"r":45,"t":55},{"i":1025,"r":70,"t":30},{"i":1038,"r":43,"t":57},{"i":1050,"r":72,"t":28},{"i":1062,"r":45,"t":55},{"i":1075,"r":68,"t":32},{"i":1088,"r":44,"t":56},{"i":1100,"r":70,"t":30},{"i":1112,"r":43,"t":57},{"i":1125,"r":72,"t":28},{"i":1138,"r":45,"t":55},{"i":1150,"r":74,"t":26},{"i":1162,"r":44,"t":56},{"i":1175,"r":68,"t":32},{"i":1188,"r":42,"t":58},{"i":1200,"r":70,"t":30},{"i":1212,"r":44,"t":56},{"i":1225,"r":74,"t":26},{"i":1238,"r":42,"t":58},{"i":1250,"r":72,"t":28},{"i":1262,"r":45,"t":55},{"i":1275,"r":68,"t":32},{"i":1288,"r":44,"t":56},{"i":1300,"r":66,"t":34},{"i":1312,"r":45,"t":55},{"i":1325,"r":65,"t":35},{"i":1338,"r":43,"t":57},{"i":1350,"r":67,"t":33},{"i":1362,"r":46,"t":54},{"i":1375,"r":64,"t":36},{"i":1388,"r":44,"t":56},{"i":1400,"r":65,"t":35},{"i":1412,"r":45,"t":55},{"i":1425,"r":63,"t":37},{"i":1438,"r":46,"t":54},{"i":1450,"r":66,"t":34},{"i":1462,"r":44,"t":56},{"i":1475,"r":64,"t":36},{"i":1488,"r":46,"t":54},{"i":1500,"r":65,"t":35},{"i":1512,"r":45,"t":55},{"i":1525,"r":66,"t":34},{"i":1538,"r":44,"t":56},{"i":1550,"r":63,"t":37},{"i":1562,"r":46,"t":54},{"i":1575,"r":66,"t":34},{"i":1588,"r":45,"t":55},{"i":1600,"r":64,"t":36},{"i":1612,"r":46,"t":54},{"i":1625,"r":67,"t":33},{"i":1638,"r":44,"t":56},{"i":1650,"r":66,"t":34},{"i":1662,"r":46,"t":54},{"i":1675,"r":68,"t":32},{"i":1688,"r":45,"t":55},{"i":1700,"r":64,"t":36},{"i":1712,"r":44,"t":56},{"i":1725,"r":68,"t":32},{"i":1738,"r":45,"t":55},{"i":1750,"r":69,"t":31},{"i":1762,"r":43,"t":57},{"i":1775,"r":70,"t":30},{"i":1788,"r":45,"t":55},{"i":1800,"r":68,"t":32},{"i":1812,"r":44,"t":56},{"i":1825,"r":71,"t":29},{"i":1838,"r":43,"t":57},{"i":1850,"r":70,"t":30},{"i":1862,"r":45,"t":55},{"i":1875,"r":73,"t":27},{"i":1888,"r":44,"t":56},{"i":1900,"r":70,"t":30},{"i":1912,"r":43,"t":57},{"i":1925,"r":68,"t":32},{"i":1938,"r":45,"t":55},{"i":1950,"r":71,"t":29},{"i":1962,"r":43,"t":57},{"i":1975,"r":68,"t":32},{"i":1988,"r":44,"t":56},{"i":2000,"r":72,"t":28}],
"g2":[{"i":0,"r":100,"t":0},{"i":4,"r":60,"t":40},{"i":8,"r":39,"t":58},{"i":18,"r":31,"t":68},{"i":38,"r":29.5,"t":77},{"i":58,"r":29,"t":84},{"i":64,"r":22,"t":86},{"i":71,"r":17,"t":88},{"i":87,"r":11.7,"t":90},{"i":107,"r":8.7,"t":92.5},{"i":127,"r":8.2,"t":93.5},{"i":140,"r":6,"t":95},{"i":147,"r":4.8,"t":95.5},{"i":165,"r":5,"t":96.5},{"i":177,"r":5.5,"t":97},{"i":185,"r":4,"t":97.5},{"i":196,"r":2.7,"t":98},{"i":230,"r":1.8,"t":98.5},{"i":286,"r":1,"t":99},{"i":350,"r":0.6,"t":99.4},{"i":444,"r":0.4,"t":99.6},{"i":600,"r":0.4,"t":99.6},{"i":800,"r":0.5,"t":99.5},{"i":880,"r":1,"t":99},{"i":920,"r":1.8,"t":98.5},{"i":970,"r":1.4,"t":98.6},{"i":990,"r":1.5,"t":98.5},{"i":1000,"r":3.4,"t":96.6},{"i":1020,"r":3,"t":97},{"i":1060,"r":2,"t":98},{"i":1100,"r":1.5,"t":98.5},{"i":1140,"r":0.7,"t":99.3},{"i":1200,"r":0.3,"t":99.7},{"i":1300,"r":0,"t":100},{"i":2000,"r":0,"t":100}],
"p3":[{"i":0,"v":230},{"i":12,"v":175},{"i":25,"v":225},{"i":38,"v":180},{"i":50,"v":248},{"i":62,"v":172},{"i":75,"v":232},{"i":88,"v":178},{"i":100,"v":228},{"i":112,"v":170},{"i":125,"v":232},{"i":138,"v":165},{"i":150,"v":225},{"i":162,"v":170},{"i":175,"v":230},{"i":188,"v":162},{"i":200,"v":228},{"i":212,"v":168},{"i":225,"v":232},{"i":238,"v":160},{"i":250,"v":225},{"i":262,"v":172},{"i":275,"v":230},{"i":288,"v":165},{"i":300,"v":222},{"i":312,"v":170},{"i":325,"v":228},{"i":338,"v":168},{"i":350,"v":232},{"i":362,"v":162},{"i":375,"v":235},{"i":388,"v":170},{"i":400,"v":230},{"i":412,"v":160},{"i":425,"v":235},{"i":438,"v":165},{"i":450,"v":228},{"i":462,"v":158},{"i":475,"v":236},{"i":488,"v":152},{"i":500,"v":225},{"i":512,"v":155},{"i":525,"v":230},{"i":538,"v":150},{"i":550,"v":228},{"i":562,"v":152},{"i":575,"v":232},{"i":588,"v":148},{"i":600,"v":225},{"i":612,"v":155},{"i":625,"v":235},{"i":638,"v":158},{"i":650,"v":238},{"i":662,"v":162},{"i":675,"v":232},{"i":688,"v":158},{"i":700,"v":240},{"i":712,"v":165},{"i":725,"v":235},{"i":738,"v":160},{"i":750,"v":242},{"i":762,"v":158},{"i":775,"v":238},{"i":788,"v":162},{"i":800,"v":244},{"i":812,"v":160},{"i":825,"v":240},{"i":838,"v":165},{"i":850,"v":242},{"i":862,"v":168},{"i":875,"v":236},{"i":888,"v":165},{"i":900,"v":235},{"i":912,"v":170},{"i":925,"v":232},{"i":938,"v":175},{"i":950,"v":228},{"i":962,"v":178},{"i":975,"v":226},{"i":988,"v":180},{"i":1000,"v":222},{"i":1012,"v":182},{"i":1025,"v":220},{"i":1038,"v":180},{"i":1050,"v":224},{"i":1062,"v":178},{"i":1075,"v":226},{"i":1088,"v":175},{"i":1100,"v":230},{"i":1112,"v":172},{"i":1125,"v":232},{"i":1138,"v":165},{"i":1150,"v":235},{"i":1162,"v":160},{"i":1175,"v":238},{"i":1188,"v":155},{"i":1200,"v":232},{"i":1212,"v":150},{"i":1225,"v":236},{"i":1238,"v":162},{"i":1250,"v":240},{"i":1262,"v":165},{"i":1275,"v":238},{"i":1288,"v":168},{"i":1300,"v":242},{"i":1312,"v":170},{"i":1325,"v":245},{"i":1338,"v":165},{"i":1350,"v":240},{"i":1362,"v":172},{"i":1375,"v":248},{"i":1388,"v":168},{"i":1400,"v":252},{"i":1412,"v":170},{"i":1425,"v":245},{"i":1438,"v":166},{"i":1450,"v":242},{"i":1462,"v":172},{"i":1475,"v":246},{"i":1488,"v":168},{"i":1500,"v":248},{"i":1512,"v":170},{"i":1525,"v":244},{"i":1538,"v":165},{"i":1550,"v":252},{"i":1562,"v":168},{"i":1575,"v":240},{"i":1588,"v":172},{"i":1600,"v":236},{"i":1612,"v":165},{"i":1625,"v":230},{"i":1638,"v":160},{"i":1650,"v":228},{"i":1662,"v":158},{"i":1675,"v":232},{"i":1688,"v":150},{"i":1700,"v":228},{"i":1712,"v":162},{"i":1725,"v":235},{"i":1738,"v":165},{"i":1750,"v":230},{"i":1762,"v":168},{"i":1775,"v":238},{"i":1788,"v":170},{"i":1800,"v":240},{"i":1812,"v":165},{"i":1825,"v":245},{"i":1838,"v":168},{"i":1850,"v":242},{"i":1862,"v":162},{"i":1875,"v":246},{"i":1888,"v":165},{"i":1900,"v":250},{"i":1912,"v":168},{"i":1925,"v":253},{"i":1938,"v":160},{"i":1950,"v":245},{"i":1962,"v":165},{"i":1975,"v":240},{"i":1988,"v":162},{"i":2000,"v":230}],
"e3":[{"i":0,"v":360},{"i":3,"v":364},{"i":6,"v":300},{"i":10,"v":230},{"i":15,"v":200},{"i":20,"v":160},{"i":24,"v":143},{"i":30,"v":140},{"i":38,"v":138},{"i":44,"v":125},{"i":48,"v":119},{"i":55,"v":120},{"i":60,"v":110},{"i":67,"v":105},{"i":75,"v":106},{"i":87,"v":99},{"i":95,"v":100},{"i":107,"v":83},{"i":115,"v":75},{"i":123,"v":66},{"i":130,"v":58},{"i":137,"v":55},{"i":145,"v":58},{"i":157,"v":44},{"i":170,"v":42},{"i":186,"v":39},{"i":210,"v":37},{"i":236,"v":36},{"i":260,"v":31},{"i":286,"v":22},{"i":300,"v":16},{"i":315,"v":11},{"i":335,"v":8},{"i":355,"v":5.5},{"i":390,"v":3},{"i":425,"v":2},{"i":480,"v":1.2},{"i":544,"v":1},{"i":600,"v":0.5},{"i":700,"v":0.2},{"i":800,"v":0},{"i":2000,"v":0}],
"q3":[{"i":0,"r":48,"t":52},{"i":12,"r":35,"t":65},{"i":25,"r":50,"t":50},{"i":38,"r":33,"t":67},{"i":50,"r":47,"t":53},{"i":62,"r":35,"t":65},{"i":75,"r":48,"t":52},{"i":88,"r":32,"t":68},{"i":100,"r":47,"t":53},{"i":112,"r":34,"t":66},{"i":125,"r":49,"t":51},{"i":138,"r":31,"t":69},{"i":150,"r":47,"t":53},{"i":162,"r":33,"t":67},{"i":175,"r":48,"t":52},{"i":188,"r":32,"t":68},{"i":200,"r":47,"t":53},{"i":212,"r":34,"t":66},{"i":225,"r":48,"t":52},{"i":238,"r":31,"t":69},{"i":250,"r":46,"t":54},{"i":262,"r":33,"t":67},{"i":275,"r":47,"t":53},{"i":288,"r":32,"t":68},{"i":300,"r":48,"t":52},{"i":312,"r":34,"t":66},{"i":325,"r":47,"t":53},{"i":338,"r":31,"t":69},{"i":350,"r":48,"t":52},{"i":362,"r":32,"t":68},{"i":375,"r":46,"t":54},{"i":388,"r":33,"t":67},{"i":400,"r":47,"t":53},{"i":412,"r":32,"t":68},{"i":425,"r":46,"t":54},{"i":438,"r":30,"t":70},{"i":450,"r":47,"t":53},{"i":462,"r":31,"t":69},{"i":475,"r":45,"t":55},{"i":488,"r":29,"t":71},{"i":500,"r":46,"t":54},{"i":512,"r":30,"t":70},{"i":525,"r":45,"t":55},{"i":538,"r":29,"t":71},{"i":550,"r":46,"t":54},{"i":562,"r":31,"t":69},{"i":575,"r":44,"t":56},{"i":588,"r":28,"t":72},{"i":600,"r":45,"t":55},{"i":612,"r":29,"t":71},{"i":625,"r":46,"t":54},{"i":638,"r":30,"t":70},{"i":650,"r":44,"t":56},{"i":662,"r":31,"t":69},{"i":675,"r":45,"t":55},{"i":688,"r":32,"t":68},{"i":700,"r":46,"t":54},{"i":712,"r":31,"t":69},{"i":725,"r":45,"t":55},{"i":738,"r":33,"t":67},{"i":750,"r":46,"t":54},{"i":762,"r":32,"t":68},{"i":775,"r":44,"t":56},{"i":788,"r":33,"t":67},{"i":800,"r":46,"t":54},{"i":812,"r":32,"t":68},{"i":825,"r":45,"t":55},{"i":838,"r":34,"t":66},{"i":850,"r":46,"t":54},{"i":862,"r":33,"t":67},{"i":875,"r":47,"t":53},{"i":888,"r":34,"t":66},{"i":900,"r":46,"t":54},{"i":912,"r":35,"t":65},{"i":925,"r":47,"t":53},{"i":938,"r":34,"t":66},{"i":950,"r":46,"t":54},{"i":962,"r":36,"t":64},{"i":975,"r":47,"t":53},{"i":988,"r":35,"t":65},{"i":1000,"r":46,"t":54},{"i":1012,"r":36,"t":64},{"i":1025,"r":47,"t":53},{"i":1038,"r":35,"t":65},{"i":1050,"r":46,"t":54},{"i":1062,"r":34,"t":66},{"i":1075,"r":47,"t":53},{"i":1088,"r":33,"t":67},{"i":1100,"r":46,"t":54},{"i":1112,"r":34,"t":66},{"i":1125,"r":45,"t":55},{"i":1138,"r":32,"t":68},{"i":1150,"r":46,"t":54},{"i":1162,"r":33,"t":67},{"i":1175,"r":45,"t":55},{"i":1188,"r":30,"t":70},{"i":1200,"r":46,"t":54},{"i":1212,"r":29,"t":71},{"i":1225,"r":45,"t":55},{"i":1238,"r":32,"t":68},{"i":1250,"r":46,"t":54},{"i":1262,"r":33,"t":67},{"i":1275,"r":45,"t":55},{"i":1288,"r":31,"t":69},{"i":1300,"r":46,"t":54},{"i":1312,"r":33,"t":67},{"i":1325,"r":47,"t":53},{"i":1338,"r":32,"t":68},{"i":1350,"r":46,"t":54},{"i":1362,"r":34,"t":66},{"i":1375,"r":48,"t":52},{"i":1388,"r":33,"t":67},{"i":1400,"r":47,"t":53},{"i":1412,"r":34,"t":66},{"i":1425,"r":48,"t":52},{"i":1438,"r":35,"t":65},{"i":1450,"r":47,"t":53},{"i":1462,"r":34,"t":66},{"i":1475,"r":48,"t":52},{"i":1488,"r":36,"t":64},{"i":1500,"r":47,"t":53},{"i":1512,"r":34,"t":66},{"i":1525,"r":48,"t":52},{"i":1538,"r":33,"t":67},{"i":1550,"r":47,"t":53},{"i":1562,"r":32,"t":68},{"i":1575,"r":46,"t":54},{"i":1588,"r":34,"t":66},{"i":1600,"r":47,"t":53},{"i":1612,"r":32,"t":68},{"i":1625,"r":46,"t":54},{"i":1638,"r":31,"t":69},{"i":1650,"r":45,"t":55},{"i":1662,"r":33,"t":67},{"i":1675,"r":46,"t":54},{"i":1688,"r":30,"t":70},{"i":1700,"r":45,"t":55},{"i":1712,"r":32,"t":68},{"i":1725,"r":46,"t":54},{"i":1738,"r":29,"t":71},{"i":1750,"r":45,"t":55},{"i":1762,"r":31,"t":69},{"i":1775,"r":46,"t":54},{"i":1788,"r":32,"t":68},{"i":1800,"r":47,"t":53},{"i":1812,"r":32,"t":68},{"i":1825,"r":46,"t":54},{"i":1838,"r":33,"t":67},{"i":1850,"r":47,"t":53},{"i":1862,"r":31,"t":69},{"i":1875,"r":48,"t":52},{"i":1888,"r":33,"t":67},{"i":1900,"r":47,"t":53},{"i":1912,"r":32,"t":68},{"i":1925,"r":48,"t":52},{"i":1938,"r":31,"t":69},{"i":1950,"r":47,"t":53},{"i":1962,"r":33,"t":67},{"i":1975,"r":48,"t":52},{"i":1988,"r":32,"t":68},{"i":2000,"r":46,"t":54}],
"g3":[{"i":0,"r":100,"t":0},{"i":3,"r":65,"t":35},{"i":8,"r":40,"t":60},{"i":18,"r":31.6,"t":68.4},{"i":28,"r":30,"t":70},{"i":38,"r":29,"t":71},{"i":48,"r":28,"t":72},{"i":58,"r":28,"t":72},{"i":68,"r":26,"t":74},{"i":77,"r":24.7,"t":75.3},{"i":87,"r":24,"t":76},{"i":97,"r":23,"t":77},{"i":107,"r":20,"t":80},{"i":117,"r":16,"t":84},{"i":127,"r":14,"t":86},{"i":137,"r":11.8,"t":88.2},{"i":150,"r":10.5,"t":89.5},{"i":167,"r":9.4,"t":90.6},{"i":190,"r":9,"t":91},{"i":216,"r":8.5,"t":91.5},{"i":236,"r":8,"t":92},{"i":256,"r":6.9,"t":93.1},{"i":280,"r":5,"t":95},{"i":306,"r":3.6,"t":96.4},{"i":325,"r":2.2,"t":97.8},{"i":345,"r":1.2,"t":98.8},{"i":380,"r":0.9,"t":99.1},{"i":444,"r":0.7,"t":99.3},{"i":550,"r":0.5,"t":99.5},{"i":643,"r":0.3,"t":99.7},{"i":800,"r":0.1,"t":99.9},{"i":1000,"r":0,"t":100},{"i":2000,"r":0,"t":100}],
"p4":[{"i":0,"v":305},{"i":12,"v":255},{"i":25,"v":315},{"i":38,"v":262},{"i":50,"v":300},{"i":62,"v":250},{"i":75,"v":320},{"i":88,"v":258},{"i":100,"v":305},{"i":112,"v":260},{"i":125,"v":315},{"i":138,"v":250},{"i":150,"v":302},{"i":162,"v":255},{"i":175,"v":310},{"i":188,"v":245},{"i":200,"v":305},{"i":212,"v":236},{"i":225,"v":318},{"i":238,"v":250},{"i":250,"v":327},{"i":262,"v":245},{"i":275,"v":325},{"i":288,"v":255},{"i":300,"v":315},{"i":312,"v":250},{"i":325,"v":305},{"i":338,"v":255},{"i":350,"v":312},{"i":362,"v":248},{"i":375,"v":318},{"i":388,"v":252},{"i":400,"v":305},{"i":412,"v":250},{"i":425,"v":312},{"i":438,"v":255},{"i":450,"v":300},{"i":462,"v":248},{"i":475,"v":310},{"i":488,"v":245},{"i":500,"v":306},{"i":512,"v":252},{"i":525,"v":300},{"i":538,"v":248},{"i":550,"v":312},{"i":562,"v":255},{"i":575,"v":305},{"i":588,"v":250},{"i":600,"v":310},{"i":612,"v":255},{"i":625,"v":300},{"i":638,"v":245},{"i":650,"v":308},{"i":662,"v":252},{"i":675,"v":302},{"i":688,"v":248},{"i":700,"v":310},{"i":712,"v":250},{"i":725,"v":300},{"i":738,"v":255},{"i":750,"v":312},{"i":762,"v":248},{"i":775,"v":305},{"i":788,"v":255},{"i":800,"v":300},{"i":812,"v":250},{"i":825,"v":308},{"i":838,"v":255},{"i":850,"v":302},{"i":862,"v":248},{"i":875,"v":305},{"i":888,"v":256},{"i":900,"v":298},{"i":912,"v":255},{"i":925,"v":305},{"i":938,"v":258},{"i":950,"v":310},{"i":962,"v":255},{"i":975,"v":315},{"i":988,"v":260},{"i":1000,"v":320},{"i":1012,"v":258},{"i":1025,"v":328},{"i":1038,"v":262},{"i":1050,"v":322},{"i":1062,"v":255},{"i":1075,"v":318},{"i":1088,"v":252},{"i":1100,"v":312},{"i":1112,"v":250},{"i":1125,"v":318},{"i":1138,"v":248},{"i":1150,"v":310},{"i":1162,"v":245},{"i":1175,"v":315},{"i":1188,"v":252},{"i":1200,"v":310},{"i":1212,"v":245},{"i":1225,"v":318},{"i":1238,"v":250},{"i":1250,"v":320},{"i":1262,"v":242},{"i":1275,"v":318},{"i":1288,"v":248},{"i":1300,"v":305},{"i":1312,"v":245},{"i":1325,"v":300},{"i":1338,"v":240},{"i":1350,"v":295},{"i":1362,"v":236},{"i":1375,"v":298},{"i":1388,"v":238},{"i":1400,"v":305},{"i":1412,"v":245},{"i":1425,"v":300},{"i":1438,"v":252},{"i":1450,"v":308},{"i":1462,"v":255},{"i":1475,"v":312},{"i":1488,"v":260},{"i":1500,"v":315},{"i":1512,"v":262},{"i":1525,"v":310},{"i":1538,"v":268},{"i":1550,"v":315},{"i":1562,"v":262},{"i":1575,"v":318},{"i":1588,"v":265},{"i":1600,"v":312},{"i":1612,"v":268},{"i":1625,"v":320},{"i":1638,"v":270},{"i":1650,"v":315},{"i":1662,"v":272},{"i":1675,"v":318},{"i":1688,"v":265},{"i":1700,"v":315},{"i":1712,"v":270},{"i":1725,"v":318},{"i":1738,"v":262},{"i":1750,"v":312},{"i":1762,"v":268},{"i":1775,"v":322},{"i":1788,"v":260},{"i":1800,"v":315},{"i":1812,"v":262},{"i":1825,"v":310},{"i":1838,"v":258},{"i":1850,"v":315},{"i":1862,"v":255},{"i":1875,"v":312},{"i":1888,"v":260},{"i":1900,"v":318},{"i":1912,"v":255},{"i":1925,"v":322},{"i":1938,"v":258},{"i":1950,"v":315},{"i":1962,"v":250},{"i":1975,"v":318},{"i":1988,"v":255},{"i":2000,"v":300}],
"e4":[{"i":0,"v":353},{"i":4,"v":300},{"i":8,"v":263},{"i":18,"v":208},{"i":28,"v":197},{"i":34,"v":153},{"i":41,"v":140},{"i":48,"v":148},{"i":58,"v":121},{"i":67,"v":110},{"i":77,"v":105},{"i":87,"v":104},{"i":97,"v":110},{"i":107,"v":137},{"i":115,"v":140},{"i":123,"v":153},{"i":133,"v":142},{"i":143,"v":115},{"i":153,"v":132},{"i":163,"v":110},{"i":173,"v":82},{"i":182,"v":84},{"i":190,"v":79},{"i":198,"v":70},{"i":206,"v":60},{"i":216,"v":58},{"i":226,"v":66},{"i":240,"v":55},{"i":256,"v":41},{"i":270,"v":45},{"i":286,"v":52},{"i":300,"v":48},{"i":312,"v":52},{"i":325,"v":55},{"i":345,"v":47},{"i":360,"v":50},{"i":375,"v":55},{"i":385,"v":58},{"i":395,"v":66},{"i":405,"v":75},{"i":415,"v":93},{"i":422,"v":115},{"i":428,"v":131},{"i":438,"v":120},{"i":448,"v":107},{"i":456,"v":113},{"i":464,"v":121},{"i":472,"v":108},{"i":480,"v":99},{"i":487,"v":110},{"i":494,"v":121},{"i":503,"v":110},{"i":513,"v":100},{"i":524,"v":96},{"i":540,"v":88},{"i":554,"v":77},{"i":563,"v":80},{"i":573,"v":85},{"i":583,"v":97},{"i":593,"v":104},{"i":603,"v":100},{"i":613,"v":107},{"i":618,"v":95},{"i":623,"v":88},{"i":633,"v":72},{"i":643,"v":63},{"i":653,"v":58},{"i":663,"v":55},{"i":672,"v":45},{"i":682,"v":38},{"i":692,"v":42},{"i":702,"v":49},{"i":707,"v":65},{"i":712,"v":79},{"i":722,"v":70},{"i":732,"v":63},{"i":745,"v":58},{"i":755,"v":62},{"i":762,"v":60},{"i":770,"v":72},{"i":778,"v":88},{"i":785,"v":60},{"i":792,"v":33},{"i":800,"v":30},{"i":810,"v":31},{"i":821,"v":27},{"i":835,"v":33},{"i":850,"v":40},{"i":861,"v":44},{"i":871,"v":42},{"i":881,"v":33},{"i":891,"v":20},{"i":901,"v":11},{"i":920,"v":7},{"i":940,"v":4},{"i":960,"v":2.7},{"i":980,"v":2},{"i":1000,"v":1},{"i":1030,"v":3},{"i":1059,"v":4.4},{"i":1090,"v":3},{"i":1130,"v":2},{"i":1180,"v":1.5},{"i":1238,"v":1},{"i":1280,"v":2},{"i":1317,"v":5},{"i":1340,"v":7},{"i":1357,"v":11},{"i":1375,"v":20},{"i":1390,"v":40},{"i":1397,"v":47},{"i":1407,"v":45},{"i":1417,"v":44},{"i":1425,"v":35},{"i":1432,"v":27},{"i":1440,"v":33},{"i":1446,"v":36},{"i":1453,"v":22},{"i":1460,"v":11},{"i":1470,"v":14},{"i":1480,"v":16},{"i":1496,"v":22},{"i":1510,"v":25},{"i":1520,"v":24},{"i":1536,"v":30},{"i":1550,"v":27},{"i":1565,"v":23},{"i":1575,"v":25},{"i":1585,"v":33},{"i":1595,"v":28},{"i":1605,"v":25},{"i":1615,"v":22},{"i":1630,"v":25},{"i":1645,"v":30},{"i":1651,"v":36},{"i":1660,"v":27},{"i":1668,"v":20},{"i":1675,"v":16},{"i":1690,"v":16},{"i":1710,"v":15},{"i":1734,"v":17.5},{"i":1750,"v":19},{"i":1774,"v":21},{"i":1790,"v":18},{"i":1810,"v":18},{"i":1833,"v":16},{"i":1850,"v":14},{"i":1870,"v":12},{"i":1893,"v":11},{"i":1910,"v":12},{"i":1933,"v":16},{"i":1950,"v":17},{"i":1962,"v":19},{"i":1975,"v":22},{"i":1982,"v":25},{"i":1992,"v":32},{"i":2000,"v":47}],
"q4":[{"i":0,"r":75,"t":25},{"i":12,"r":62,"t":38},{"i":25,"r":82,"t":18},{"i":38,"r":64,"t":36},{"i":50,"r":78,"t":22},{"i":62,"r":60,"t":40},{"i":75,"r":83,"t":17},{"i":88,"r":62,"t":38},{"i":100,"r":80,"t":20},{"i":112,"r":63,"t":37},{"i":125,"r":84,"t":16},{"i":138,"r":60,"t":40},{"i":150,"r":82,"t":18},{"i":162,"r":62,"t":38},{"i":175,"r":85,"t":15},{"i":188,"r":58,"t":42},{"i":200,"r":84,"t":16},{"i":212,"r":56,"t":44},{"i":225,"r":82,"t":18},{"i":238,"r":60,"t":40},{"i":250,"r":87,"t":13},{"i":262,"r":58,"t":42},{"i":275,"r":84,"t":16},{"i":288,"r":62,"t":38},{"i":300,"r":82,"t":18},{"i":312,"r":60,"t":40},{"i":325,"r":80,"t":20},{"i":338,"r":62,"t":38},{"i":350,"r":84,"t":16},{"i":362,"r":58,"t":42},{"i":375,"r":82,"t":18},{"i":388,"r":62,"t":38},{"i":400,"r":80,"t":20},{"i":412,"r":60,"t":40},{"i":425,"r":83,"t":17},{"i":438,"r":62,"t":38},{"i":450,"r":78,"t":22},{"i":462,"r":60,"t":40},{"i":475,"r":82,"t":18},{"i":488,"r":62,"t":38},{"i":500,"r":78,"t":22},{"i":512,"r":60,"t":40},{"i":525,"r":80,"t":20},{"i":538,"r":58,"t":42},{"i":550,"r":78,"t":22},{"i":562,"r":62,"t":38},{"i":575,"r":80,"t":20},{"i":588,"r":58,"t":42},{"i":600,"r":78,"t":22},{"i":612,"r":62,"t":38},{"i":625,"r":76,"t":24},{"i":638,"r":58,"t":42},{"i":650,"r":80,"t":20},{"i":662,"r":60,"t":40},{"i":675,"r":78,"t":22},{"i":688,"r":62,"t":38},{"i":700,"r":80,"t":20},{"i":712,"r":60,"t":40},{"i":725,"r":78,"t":22},{"i":738,"r":58,"t":42},{"i":750,"r":80,"t":20},{"i":762,"r":61,"t":39},{"i":775,"r":78,"t":22},{"i":788,"r":62,"t":38},{"i":800,"r":77,"t":23},{"i":812,"r":60,"t":40},{"i":825,"r":80,"t":20},{"i":838,"r":62,"t":38},{"i":850,"r":78,"t":22},{"i":862,"r":60,"t":40},{"i":875,"r":80,"t":20},{"i":888,"r":63,"t":37},{"i":900,"r":78,"t":22},{"i":912,"r":62,"t":38},{"i":925,"r":80,"t":20},{"i":938,"r":60,"t":40},{"i":950,"r":82,"t":18},{"i":962,"r":63,"t":37},{"i":975,"r":80,"t":20},{"i":988,"r":60,"t":40},{"i":1000,"r":84,"t":16},{"i":1012,"r":62,"t":38},{"i":1025,"r":86,"t":14},{"i":1038,"r":58,"t":42},{"i":1050,"r":85,"t":15},{"i":1062,"r":60,"t":40},{"i":1075,"r":82,"t":18},{"i":1088,"r":62,"t":38},{"i":1100,"r":80,"t":20},{"i":1112,"r":58,"t":42},{"i":1125,"r":82,"t":18},{"i":1138,"r":60,"t":40},{"i":1150,"r":80,"t":20},{"i":1162,"r":62,"t":38},{"i":1175,"r":84,"t":16},{"i":1188,"r":58,"t":42},{"i":1200,"r":82,"t":18},{"i":1212,"r":60,"t":40},{"i":1225,"r":84,"t":16},{"i":1238,"r":58,"t":42},{"i":1250,"r":85,"t":15},{"i":1262,"r":62,"t":38},{"i":1275,"r":83,"t":17},{"i":1288,"r":58,"t":42},{"i":1300,"r":80,"t":20},{"i":1312,"r":60,"t":40},{"i":1325,"r":78,"t":22},{"i":1338,"r":56,"t":44},{"i":1350,"r":80,"t":20},{"i":1362,"r":55,"t":45},{"i":1375,"r":76,"t":24},{"i":1388,"r":54,"t":46},{"i":1400,"r":80,"t":20},{"i":1412,"r":60,"t":40},{"i":1425,"r":78,"t":22},{"i":1438,"r":62,"t":38},{"i":1450,"r":80,"t":20},{"i":1462,"r":64,"t":36},{"i":1475,"r":82,"t":18},{"i":1488,"r":63,"t":37},{"i":1500,"r":84,"t":16},{"i":1512,"r":65,"t":35},{"i":1525,"r":82,"t":18},{"i":1538,"r":66,"t":34},{"i":1550,"r":85,"t":15},{"i":1562,"r":64,"t":36},{"i":1575,"r":84,"t":16},{"i":1588,"r":66,"t":34},{"i":1600,"r":82,"t":18},{"i":1612,"r":65,"t":35},{"i":1625,"r":85,"t":15},{"i":1638,"r":67,"t":33},{"i":1650,"r":83,"t":17},{"i":1662,"r":65,"t":35},{"i":1675,"r":85,"t":15},{"i":1688,"r":66,"t":34},{"i":1700,"r":84,"t":16},{"i":1712,"r":65,"t":35},{"i":1725,"r":82,"t":18},{"i":1738,"r":64,"t":36},{"i":1750,"r":85,"t":15},{"i":1762,"r":63,"t":37},{"i":1775,"r":83,"t":17},{"i":1788,"r":62,"t":38},{"i":1800,"r":84,"t":16},{"i":1812,"r":63,"t":37},{"i":1825,"r":82,"t":18},{"i":1838,"r":62,"t":38},{"i":1850,"r":80,"t":20},{"i":1862,"r":61,"t":39},{"i":1875,"r":84,"t":16},{"i":1888,"r":62,"t":38},{"i":1900,"r":82,"t":18},{"i":1912,"r":60,"t":40},{"i":1925,"r":80,"t":20},{"i":1938,"r":62,"t":38},{"i":1950,"r":85,"t":15},{"i":1962,"r":58,"t":42},{"i":1975,"r":80,"t":20},{"i":1988,"r":60,"t":40},{"i":2000,"r":76,"t":24}],
"g4":[{"i":0,"r":100,"t":0},{"i":4,"r":80,"t":20},{"i":8,"r":63,"t":37},{"i":14,"r":46.6,"t":53.4},{"i":24,"r":29,"t":71},{"i":38,"r":22,"t":78},{"i":50,"r":20,"t":80},{"i":67,"r":20.5,"t":79.5},{"i":80,"r":22,"t":78},{"i":97,"r":23,"t":77},{"i":110,"r":26,"t":74},{"i":127,"r":28,"t":72},{"i":140,"r":22,"t":78},{"i":150,"r":20,"t":80},{"i":167,"r":13.7,"t":86.3},{"i":185,"r":11,"t":89},{"i":206,"r":9.6,"t":90.4},{"i":230,"r":8,"t":92},{"i":256,"r":6.8,"t":93.2},{"i":280,"r":7.5,"t":92.5},{"i":306,"r":8.2,"t":91.8},{"i":345,"r":8.9,"t":91.1},{"i":375,"r":10.3,"t":89.7},{"i":405,"r":16.4,"t":83.6},{"i":425,"r":22,"t":78},{"i":444,"r":19,"t":81},{"i":464,"r":20.5,"t":79.5},{"i":484,"r":22,"t":78},{"i":504,"r":18,"t":82},{"i":534,"r":13.7,"t":86.3},{"i":563,"r":17,"t":83},{"i":593,"r":16.4,"t":83.6},{"i":623,"r":12.3,"t":87.7},{"i":643,"r":11,"t":89},{"i":663,"r":9.6,"t":90.4},{"i":692,"r":8.2,"t":91.8},{"i":712,"r":13.7,"t":86.3},{"i":742,"r":11.6,"t":88.4},{"i":771,"r":13,"t":87},{"i":781,"r":16.4,"t":83.6},{"i":791,"r":10,"t":90},{"i":801,"r":6.2,"t":93.8},{"i":830,"r":5.5,"t":94.5},{"i":851,"r":6.2,"t":93.8},{"i":871,"r":6.8,"t":93.2},{"i":891,"r":2,"t":98},{"i":915,"r":1,"t":99},{"i":940,"r":0.7,"t":99.3},{"i":1039,"r":0.7,"t":99.3},{"i":1060,"r":1,"t":99},{"i":1139,"r":0.4,"t":99.6},{"i":1250,"r":0.4,"t":99.6},{"i":1337,"r":0.7,"t":99.3},{"i":1387,"r":3.4,"t":96.6},{"i":1417,"r":2.7,"t":97.3},{"i":1446,"r":2,"t":98},{"i":1476,"r":1.4,"t":98.6},{"i":1506,"r":2.7,"t":97.3},{"i":1575,"r":2.7,"t":97.3},{"i":1595,"r":3.4,"t":96.6},{"i":1615,"r":2.5,"t":97.5},{"i":1635,"r":2,"t":98},{"i":1655,"r":3.4,"t":96.6},{"i":1680,"r":2,"t":98},{"i":1734,"r":1.6,"t":98.4},{"i":1833,"r":1.4,"t":98.6},{"i":1932,"r":1,"t":99},{"i":1960,"r":1.5,"t":98.5},{"i":1982,"r":2,"t":98},{"i":2000,"r":4,"t":96}]
},
"config":{
"view":{"stroke":"#262626","strokeWidth":1},
"axis":{"labelFont":"Liberation Serif","labelFontSize":13.5,"labelColor":"#262626","titleFont":"Liberation Serif","titleFontSize":14,"titleFontWeight":"bold","titleColor":"#000000","gridColor":"#e0e0e0","gridWidth":1,"domainColor":"#262626","domainWidth":1,"ticks":false,"labelFlush":false,"labelOverlap":false},
"axisX":{"labelPadding":4,"titlePadding":3},
"axisY":{"labelPadding":5,"titlePadding":3},
"title":{"font":"Liberation Serif","fontSize":16.5,"fontWeight":"bold","color":"#000000","baseline":"alphabetic","offset":-7.5,"frame":"group","anchor":"middle"},
"legend":{"symbolType":"stroke","symbolSize":1156,"symbolStrokeWidth":2,"labelFont":"Liberation Serif","labelFontSize":9.6,"labelColor":"#262626","labelOffset":2,"clipHeight":11,"rowPadding":0,"padding":0,"symbolOffset":0}
}
}
